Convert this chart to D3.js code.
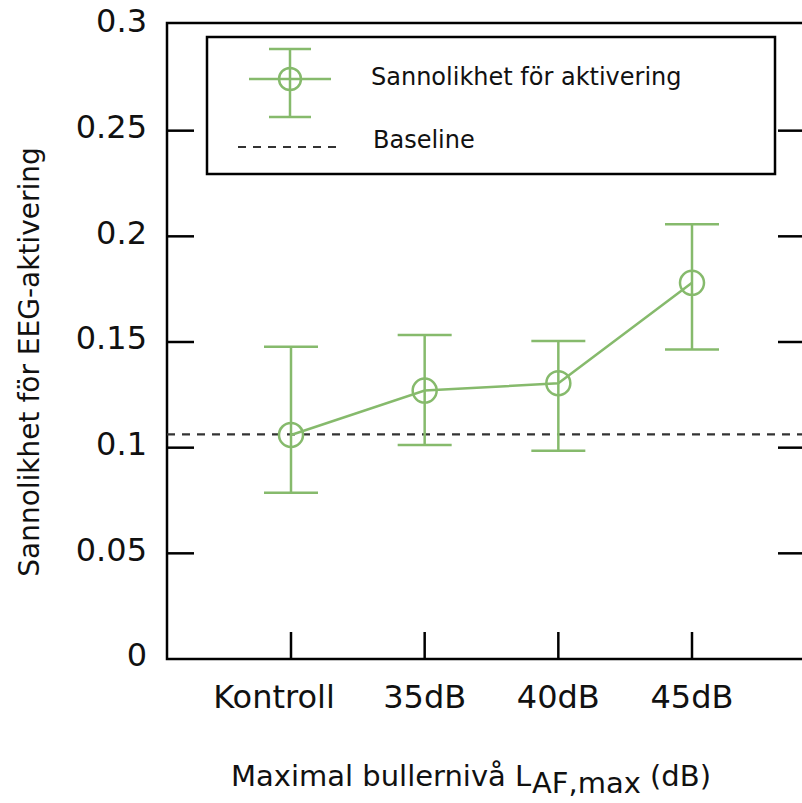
<!DOCTYPE html>
<html>
<head>
<meta charset="utf-8">
<script src="https://cdn.jsdelivr.net/npm/d3@7"></script>
<style>
	body { margin: 0; background: #fff; }
	svg text { font-family: "DejaVu Sans", Verdana, sans-serif; fill: #111; }
</style>
</head>
<body>
<script>
// chart data
var categories = ['Kontroll', '35dB', '40dB', '45dB'];
var probability = [0.106, 0.127, 0.1305, 0.178];
var errLow = [0.0787, 0.1013, 0.0986, 0.1464];
var errHigh = [0.1478, 0.1533, 0.1505, 0.2057];
var baseline = 0.1063;
var yTicks = [0, 0.05, 0.1, 0.15, 0.2, 0.25, 0.3];
var yTickLabels = ['0', '0.05', '0.1', '0.15', '0.2', '0.25', '0.3'];

var width = 802, height = 803;
var green = '#86ba6c',
	axisStroke = 2.5,
	tickLen = 27,
	markerRadius = 12,
	capHalf = 27;

var plotLeft = 167, plotRight = 805, plotTop = 23, plotBottom = 659;

var svg = d3.select('body').append('svg')
	.attr('width', width)
	.attr('height', height);

var x = d3.scalePoint()
	.domain(categories)
	.range([291, 692]);

var y = d3.scaleLinear()
	.domain([0, 0.3])
	.range([plotBottom, 25]);

// frame
svg.append('rect')
	.attr('x', plotLeft).attr('y', plotTop)
	.attr('width', plotRight - plotLeft).attr('height', plotBottom - plotTop)
	.attr('fill', 'none').attr('stroke', '#000').attr('stroke-width', axisStroke);

// y ticks, left and right side (pointing inward)
var yTickG = svg.append('g').attr('class', 'y-ticks');
yTicks.forEach(function (t, i) {
	if (t > 0 && t < 0.3) {
		yTickG.append('line')
			.attr('x1', plotLeft).attr('x2', plotLeft + tickLen)
			.attr('y1', y(t)).attr('y2', y(t))
			.attr('stroke', '#000').attr('stroke-width', axisStroke);
		yTickG.append('line')
			.attr('x1', plotRight).attr('x2', plotRight - tickLen)
			.attr('y1', y(t)).attr('y2', y(t))
			.attr('stroke', '#000').attr('stroke-width', axisStroke);
	}
	yTickG.append('text')
		.attr('x', 147)
		.attr('y', y(t) - 4)
		.attr('dy', '0.35em')
		.attr('text-anchor', 'end')
		.attr('font-size', 32)
		.text(yTickLabels[i]);
});

// x ticks
var xTickG = svg.append('g').attr('class', 'x-ticks');
categories.forEach(function (c, i) {
	xTickG.append('line')
		.attr('x1', x(c)).attr('x2', x(c))
		.attr('y1', plotBottom).attr('y2', plotBottom - tickLen)
		.attr('stroke', '#000').attr('stroke-width', axisStroke);
	xTickG.append('text')
		.attr('x', x(c))
		.attr('dx', i === 0 ? -17 : 0)
		.attr('y', 697)
		.attr('dy', '0.35em')
		.attr('text-anchor', 'middle')
		.attr('font-size', 32)
		.text(c);
});

// baseline
svg.append('line')
	.attr('x1', plotLeft).attr('x2', plotRight)
	.attr('y1', y(baseline)).attr('y2', y(baseline))
	.attr('stroke', '#333').attr('stroke-width', 2.2)
	.attr('stroke-dasharray', '8,7');

// connecting line
var line = d3.line()
	.x(function (d, i) { return x(categories[i]); })
	.y(function (d) { return y(d); });
svg.append('path')
	.datum(probability)
	.attr('d', line)
	.attr('fill', 'none')
	.attr('stroke', green)
	.attr('stroke-width', 2.5);

// error bars and markers
var pts = svg.selectAll('.pt').data(categories).enter().append('g').attr('class', 'pt');
pts.append('line')
	.attr('x1', function (d) { return x(d); }).attr('x2', function (d) { return x(d); })
	.attr('y1', function (d, i) { return y(errLow[i]); })
	.attr('y2', function (d, i) { return y(errHigh[i]); })
	.attr('stroke', green).attr('stroke-width', 2.5);
pts.append('line')
	.attr('x1', function (d) { return x(d) - capHalf; }).attr('x2', function (d) { return x(d) + capHalf; })
	.attr('y1', function (d, i) { return y(errLow[i]); })
	.attr('y2', function (d, i) { return y(errLow[i]); })
	.attr('stroke', green).attr('stroke-width', 2.5);
pts.append('line')
	.attr('x1', function (d) { return x(d) - capHalf; }).attr('x2', function (d) { return x(d) + capHalf; })
	.attr('y1', function (d, i) { return y(errHigh[i]); })
	.attr('y2', function (d, i) { return y(errHigh[i]); })
	.attr('stroke', green).attr('stroke-width', 2.5);
pts.append('circle')
	.attr('cx', function (d) { return x(d); })
	.attr('cy', function (d, i) { return y(probability[i]); })
	.attr('r', markerRadius)
	.attr('fill', 'none')
	.attr('stroke', green).attr('stroke-width', 2.5);

// legend
var legend = svg.append('g').attr('class', 'legend');
legend.append('rect')
	.attr('x', 207).attr('y', 37)
	.attr('width', 568).attr('height', 137)
	.attr('fill', '#fff').attr('stroke', '#000').attr('stroke-width', 2.5);
var lx = 290, ly = 79;
legend.append('line').attr('x1', lx - 41).attr('x2', lx + 41).attr('y1', ly).attr('y2', ly)
	.attr('stroke', green).attr('stroke-width', 2.5);
legend.append('line').attr('x1', lx).attr('x2', lx).attr('y1', ly - 30).attr('y2', ly + 38)
	.attr('stroke', green).attr('stroke-width', 2.5);
legend.append('line').attr('x1', lx - 21).attr('x2', lx + 21).attr('y1', ly - 30).attr('y2', ly - 30)
	.attr('stroke', green).attr('stroke-width', 2.5);
legend.append('line').attr('x1', lx - 21).attr('x2', lx + 21).attr('y1', ly + 38).attr('y2', ly + 38)
	.attr('stroke', green).attr('stroke-width', 2.5);
legend.append('circle').attr('cx', lx).attr('cy', ly).attr('r', 11)
	.attr('fill', 'none').attr('stroke', green).attr('stroke-width', 2.5);
legend.append('text').attr('x', 371).attr('y', ly - 2).attr('dy', '0.35em')
	.attr('font-size', 24).text('Sannolikhet för aktivering');
legend.append('line').attr('x1', 238).attr('x2', 340).attr('y1', 147).attr('y2', 147)
	.attr('stroke', '#333').attr('stroke-width', 2.2).attr('stroke-dasharray', '8,7');
legend.append('text').attr('x', 373).attr('y', 140).attr('dy', '0.35em')
	.attr('font-size', 24).text('Baseline');

// axis titles
var xTitle = svg.append('text')
	.attr('x', 471).attr('y', 786)
	.attr('text-anchor', 'middle')
	.attr('font-size', 29);
xTitle.append('tspan').text('Maximal bullernivå L');
xTitle.append('tspan').attr('dy', 7).text('AF,max');
xTitle.append('tspan').attr('dy', -7).text(' (dB)');

svg.append('text')
	.attr('transform', 'translate(39,362) rotate(-90)')
	.attr('text-anchor', 'middle')
	.attr('font-size', 28)
	.text('Sannolikhet för EEG-aktivering');
</script>
</body>
</html>
